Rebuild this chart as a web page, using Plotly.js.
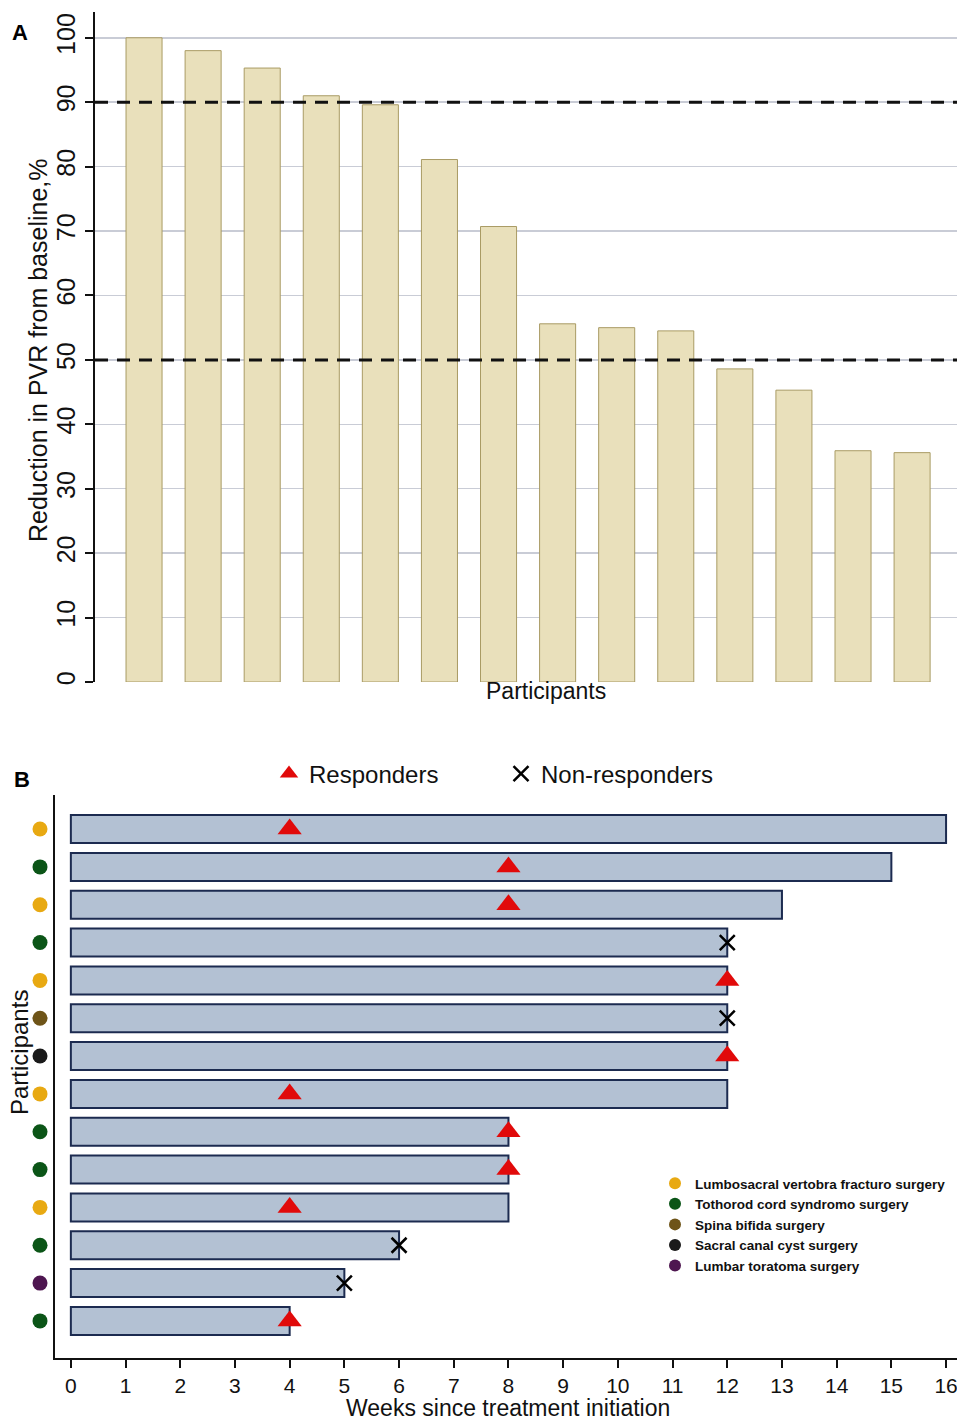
<!DOCTYPE html>
<html>
<head>
<meta charset="utf-8">
<script src="https://cdn.plot.ly/plotly-3.0.1.min.js"></script>
<style>html,body{margin:0;padding:0;background:#fff;}#chart{width:957px;height:1423px;}</style>
</head>
<body>
<div id="chart"></div>
<script>
// ---------- Panel A data ----------
const participantsA = [1,2,3,4,5,6,7,8,9,10,11,12,13,14];
const pvrReduction = [100, 98.0, 95.3, 91.0, 89.6, 81.1, 70.7, 55.6, 55.0, 54.5, 48.6, 45.3, 35.9, 35.6];
const thresholdLines = [90, 50];
const yTicksA = [0,10,20,30,40,50,60,70,80,90,100];

// ---------- Panel B data ----------
const participantsB = [1,2,3,4,5,6,7,8,9,10,11,12,13,14];
const weeksTreated = [16, 15, 13, 12, 12, 12, 12, 12, 8, 8, 8, 6, 5, 4];
const eventWeek    = [4, 8, 8, 12, 12, 12, 12, 4, 8, 8, 4, 6, 5, 4];
const responder    = [1, 1, 1, 0, 1, 0, 1, 1, 1, 1, 1, 0, 0, 1];
const surgery = ["Lumbosacral vertobra fracturo surgery","Tothorod cord syndromo surgery","Lumbosacral vertobra fracturo surgery",
  "Tothorod cord syndromo surgery","Lumbosacral vertobra fracturo surgery","Spina bifida surgery","Sacral canal cyst surgery",
  "Lumbosacral vertobra fracturo surgery","Tothorod cord syndromo surgery","Tothorod cord syndromo surgery",
  "Lumbosacral vertobra fracturo surgery","Tothorod cord syndromo surgery","Lumbar toratoma surgery","Tothorod cord syndromo surgery"];
const surgeryTypes = ["Lumbosacral vertobra fracturo surgery","Tothorod cord syndromo surgery","Spina bifida surgery","Sacral canal cyst surgery","Lumbar toratoma surgery"];
const surgeryColors = ["#e8a912","#0b5517","#6e5418","#1a1a1a","#4e1650"];
const xTicksB = [0,1,2,3,4,5,6,7,8,9,10,11,12,13,14,15,16];

const W = 957, H = 1423;
const fontMain = "Liberation Sans, Arial, sans-serif";

const traces = [];
traces.push({
  type:'bar', x: participantsA, y: pvrReduction, xaxis:'x', yaxis:'y',
  marker:{color:'#e9e0bb', line:{color:'#a99b64', width:1}},
  width:0.61, showlegend:false, hoverinfo:'y'
});

traces.push({
  type:'bar', orientation:'h', x: weeksTreated, y: participantsB, xaxis:'x2', yaxis:'y2',
  marker:{color:'#b3c1d3', line:{color:'#1c2b50', width:2}},
  width:0.74, showlegend:false, hoverinfo:'x'
});

const respX=[], respY=[], nonX=[], nonY=[];
for (let i=0;i<participantsB.length;i++){
  if (responder[i]) { respX.push(eventWeek[i]); respY.push(participantsB[i]); }
  else { nonX.push(eventWeek[i]); nonY.push(participantsB[i]); }
}
traces.push({
  type:'scatter', mode:'markers', x: respX, y: respY, xaxis:'x2', yaxis:'y2',
  name:'Responders', legend:'legend', cliponaxis:false,
  marker:{symbol:'triangle-up', size:21, color:'#e10a0a', line:{width:0}}
});
traces.push({
  type:'scatter', mode:'markers', x: nonX, y: nonY, xaxis:'x2', yaxis:'y2',
  name:'Non-responders', legend:'legend', cliponaxis:false,
  marker:{symbol:'x-thin-open', size:15, color:'#000', line:{color:'#000', width:2.5}}
});

// surgery-type dots, drawn in a narrow strip left of the panel B axis
surgeryTypes.forEach((s, k) => {
  const ys = [];
  for (let i=0;i<surgery.length;i++) if (surgery[i]===s) ys.push(participantsB[i]);
  traces.push({
    type:'scatter', mode:'markers', x: ys.map(()=>0.5), y: ys, xaxis:'x3', yaxis:'y2',
    name: s, legend:'legend2', cliponaxis:false,
    marker:{symbol:'circle', size:15, color:surgeryColors[k]}
  });
});

const shapes = thresholdLines.map(v => ({
  type:'line', xref:'x domain', yref:'y', x0:0, x1:1, y0:v, y1:v,
  line:{color:'#111', width:3, dash:'13px,9px'}, layer:'above'
}));

const layout = {
  width:W, height:H, margin:{l:0,r:0,t:0,b:0, autoexpand:false},
  paper_bgcolor:'#fff', plot_bgcolor:'#fff',
  font:{family:fontMain, color:'#111'},
  xaxis:{domain:[95/W,1], range:[0.17,14.76], showticklabels:false, ticks:'', showgrid:false,
    zeroline:false, showline:false, anchor:'y'},
  yaxis:{domain:[1-682/H, 1-12/H], range:[0,104], tickvals:yTicksA, ticktext:yTicksA.map(String),
    ticks:'outside', ticklen:8, tickwidth:2, tickcolor:'#111', tickangle:-90,
    tickfont:{family:fontMain, size:25, color:'#111'},
    showline:true, linecolor:'#111', linewidth:2, zeroline:false,
    showgrid:true, gridcolor:'#c9ccd6', gridwidth:1.5, anchor:'x'},
  xaxis2:{domain:[55/W,1], range:[-0.29,16.2], tickvals:xTicksB, ticktext:xTicksB.map(String),
    ticks:'outside', ticklen:8, tickwidth:2, tickcolor:'#111', ticklabeloverflow:'allow',
    tickfont:{family:fontMain, size:21, color:'#111'},
    showline:true, linecolor:'#111', linewidth:2, zeroline:false, showgrid:false, anchor:'y2'},
  yaxis2:{domain:[1-1358/H, 1-795/H], range:[14.98,0.1], showticklabels:false, ticks:'',
    showline:true, linecolor:'#111', linewidth:2, zeroline:false, showgrid:false, anchor:'x2'},
  xaxis3:{domain:[28/W, 52/W], range:[0,1], visible:false, anchor:'y2', showgrid:false, zeroline:false},
  legend:{orientation:'h', x:269/W, y:1-774/H, xanchor:'left', yanchor:'middle',
    font:{family:fontMain, size:24, color:'#111'}, itemsizing:'trace', entrywidth:187,
    bgcolor:'rgba(0,0,0,0)'},
  legend2:{orientation:'v', x:655/W, y:1-1168/H, xanchor:'left', yanchor:'top',
    font:{family:fontMain, size:13.5, color:'#111', weight:600}, itemsizing:'constant', tracegroupgap:0,
    bgcolor:'rgba(0,0,0,0)'},
  shapes: shapes,
  annotations:[
    {text:'<b>A</b>', xref:'paper', yref:'paper', x:20/W, y:1-32/H, xanchor:'center', yanchor:'middle', showarrow:false, font:{size:22, color:'#000'}},
    {text:'<b>B</b>', xref:'paper', yref:'paper', x:22/W, y:1-779/H, xanchor:'center', yanchor:'middle', showarrow:false, font:{size:22, color:'#000'}},
    {text:'Reduction in PVR from baseline,%', xref:'paper', yref:'paper', x:38/W, y:1-350/H, textangle:-90,
      xanchor:'center', yanchor:'middle', showarrow:false, font:{size:25, color:'#111'}},
    {text:'Participants', xref:'paper', yref:'paper', x:546/W, y:1-691/H,
      xanchor:'center', yanchor:'middle', showarrow:false, font:{size:23, color:'#111'}},
    {text:'Participants', xref:'paper', yref:'paper', x:19/W, y:1-1053/H, textangle:-90,
      xanchor:'center', yanchor:'middle', showarrow:false, font:{size:24, color:'#111'}},
    {text:'Weeks since treatment initiation', xref:'paper', yref:'paper', x:508/W, y:1-1408/H,
      xanchor:'center', yanchor:'middle', showarrow:false, font:{size:23, color:'#111'}}
  ]
};

Plotly.newPlot('chart', traces, layout, {displayModeBar:false, staticPlot:true});
</script>
</body>
</html>
